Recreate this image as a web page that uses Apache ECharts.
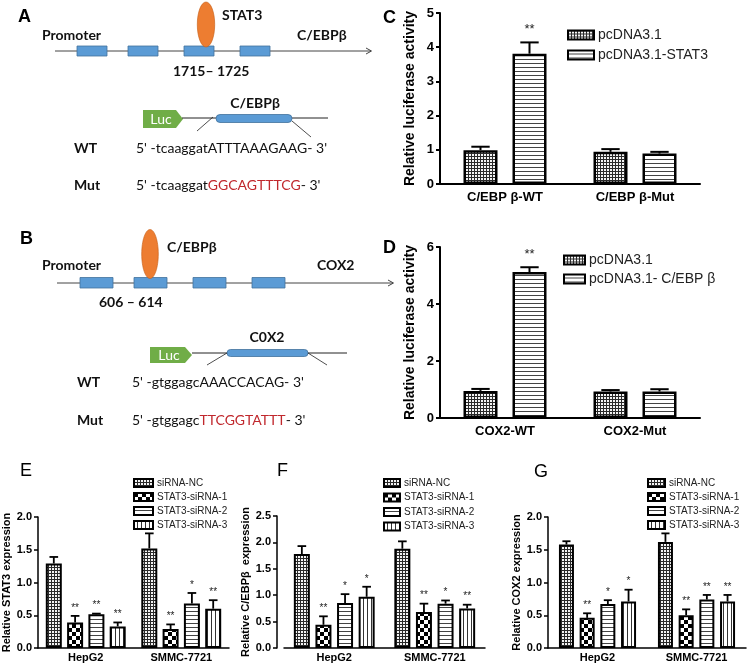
<!DOCTYPE html>
<html><head><meta charset="utf-8">
<script src="https://cdn.jsdelivr.net/npm/echarts@6/dist/echarts.min.js"></script>
<style>html,body{margin:0;padding:0;background:#fff}#c{width:747px;height:667px}</style>
</head><body><div id="c"></div>
<script>
// ---------- DATA ----------
const cCategories = ['C/EBP β-WT', 'C/EBP β-Mut'];
const cNames = ['pcDNA3.1', 'pcDNA3.1-STAT3'];
const cPcDNA = [0.99, 0.94];
const cPcDNAErr = [0.10, 0.08];
const cSTAT3 = [3.81, 0.89];
const cSTAT3Err = [0.33, 0.05];
const cSig = [['', ''], ['**', '']];
const cTicks = [0, 5, 1];

const dCategories = ['COX2-WT', 'COX2-Mut'];
const dNames = ['pcDNA3.1', 'pcDNA3.1- C/EBP β'];
const dPcDNA = [0.95, 0.93];
const dPcDNAErr = [0.07, 0.05];
const dCEBP = [5.12, 0.93];
const dCEBPErr = [0.17, 0.08];
const dSig = [['', ''], ['**', '']];
const dTicks = [0, 6, 2];

const siNames = ['siRNA-NC', 'STAT3-siRNA-1', 'STAT3-siRNA-2', 'STAT3-siRNA-3'];
const cellLines = ['HepG2', 'SMMC-7721'];

const eVals = [[1.29, 1.52], [0.39, 0.29], [0.515, 0.68], [0.33, 0.60]];
const eErrs = [[0.10, 0.23], [0.10, 0.07], [0.01, 0.16], [0.06, 0.13]];
const eSig = [['', ''], ['**', '**'], ['**', '*'], ['**', '**']];
const eTicks = [0, 2, 0.5];

const fVals = [[1.78, 1.88], [0.44, 0.68], [0.85, 0.84], [0.97, 0.75]];
const fErrs = [[0.15, 0.14], [0.16, 0.16], [0.17, 0.06], [0.19, 0.07]];
const fSig = [['', ''], ['**', '**'], ['*', '*'], ['*', '**']];
const fTicks = [0, 2.5, 0.5];

const gVals = [[1.58, 1.62], [0.46, 0.50], [0.67, 0.74], [0.71, 0.71]];
const gErrs = [[0.05, 0.13], [0.07, 0.09], [0.06, 0.07], [0.18, 0.10]];
const gSig = [['', ''], ['**', '**'], ['*', '**'], ['*', '**']];
const gTicks = [0, 2, 0.5];

// ---------- PATTERNS ----------
function mkPattern(kind) {
  const c = document.createElement('canvas');
  let g;
  if (kind === 'dots') {
    c.width = 3; c.height = 3; g = c.getContext('2d');
    g.fillStyle = '#f4f4f4'; g.fillRect(0, 0, 3, 3);
    g.fillStyle = '#2a2a2a'; g.fillRect(0, 0, 3, 1); g.fillRect(0, 0, 1, 3);
  } else if (kind === 'checker') {
    c.width = 8; c.height = 8; g = c.getContext('2d');
    g.fillStyle = '#fff'; g.fillRect(0, 0, 8, 8);
    g.fillStyle = '#000'; g.fillRect(0, 0, 4, 4); g.fillRect(4, 4, 4, 4);
  } else if (kind === 'hstripe') {
    c.width = 4; c.height = 4; g = c.getContext('2d');
    g.fillStyle = '#fff'; g.fillRect(0, 0, 4, 4);
    g.fillStyle = '#444'; g.fillRect(0, 3, 4, 1);
  } else {
    c.width = 4; c.height = 4; g = c.getContext('2d');
    g.fillStyle = '#fff'; g.fillRect(0, 0, 4, 4);
    g.fillStyle = '#333'; g.fillRect(3, 0, 1, 4);
  }
  return { image: c, repeat: 'repeat' };
}
const P = { dots: mkPattern('dots'), checker: mkPattern('checker'), h: mkPattern('hstripe'), v: mkPattern('vstripe') };

const FONT = 'Liberation Sans, Arial, sans-serif';
const DFONT = 'Lato, Open Sans, sans-serif';

// ---------- HELPERS ----------
const grids = [], xAxes = [], yAxes = [], series = [], legends = [];

function addPanel(cfg) {
  const gi = grids.length;
  grids.push({ left: cfg.left, top: cfg.top, width: cfg.width, height: cfg.height, containLabel: false });
  xAxes.push({
    type: 'category', gridIndex: gi, data: cfg.cats,
    axisLine: { lineStyle: { color: '#000', width: cfg.axisW } },
    axisTick: { alignWithLabel: true, length: 4, lineStyle: { color: '#000', width: cfg.axisW } },
    axisLabel: { color: '#000', fontFamily: FONT, fontWeight: 'bold', fontSize: cfg.xFont, margin: cfg.xMargin, interval: 0 }
  });
  yAxes.push({
    type: 'value', gridIndex: gi, min: cfg.ticks[0], max: cfg.ticks[1], interval: cfg.ticks[2],
    offset: cfg.yOffset || 0,
    name: cfg.yName, nameLocation: 'middle', nameGap: cfg.nameGap,
    nameTextStyle: { color: '#000', fontFamily: FONT, fontWeight: 'bold', fontSize: cfg.nameFont },
    splitLine: { show: false },
    axisLine: { show: true, lineStyle: { color: '#000', width: cfg.axisW } },
    axisTick: { show: true, length: 4, lineStyle: { color: '#000', width: cfg.axisW } },
    axisLabel: { color: '#000', fontFamily: FONT, fontWeight: 'bold', fontSize: cfg.yFont, margin: 6, formatter: cfg.yFmt }
  });
  const n = cfg.names.length;
  cfg.names.forEach((nm, s) => {
    series.push({
      type: 'bar', name: nm, xAxisIndex: gi, yAxisIndex: gi, data: cfg.vals[s],
      barWidth: cfg.bw, barGap: (cfg.gap / cfg.bw * 100) + '%',
      itemStyle: { color: cfg.pats[s], borderColor: '#000', borderWidth: cfg.borderW },
      emphasis: { disabled: true }, animation: false
    });
  });
  const errData = [];
  for (let s = 0; s < n; s++) for (let c = 0; c < cfg.cats.length; c++) errData.push([c, cfg.vals[s][c], cfg.errs[s][c], s]);
  series.push({
    type: 'custom', xAxisIndex: gi, yAxisIndex: gi, data: errData, z: 5, clip: false, animation: false,
    renderItem: function (params, api) {
      const ci = api.value(0), v = api.value(1), e = api.value(2), s = api.value(3);
      const base = api.coord([ci, v]), top = api.coord([ci, v + e]);
      const total = n * cfg.bw + (n - 1) * cfg.gap;
      const x = base[0] - total / 2 + s * (cfg.bw + cfg.gap) + cfg.bw / 2;
      const hc = cfg.bw * 0.27;
      const ch = [
        { type: 'line', shape: { x1: x, y1: base[1], x2: x, y2: top[1] }, style: { stroke: '#000', lineWidth: cfg.errW } },
        { type: 'line', shape: { x1: x - hc, y1: top[1], x2: x + hc, y2: top[1] }, style: { stroke: '#000', lineWidth: cfg.errW } }
      ];
      const sig = cfg.sig[s][ci];
      if (sig) ch.push({ type: 'text', x: x, y: top[1] - cfg.sigGap, style: { text: sig, fill: '#222', font: cfg.sigFont + 'px ' + FONT, align: 'center', verticalAlign: 'bottom' } });
      return { type: 'group', children: ch };
    }
  });
  legends.push({
    data: cfg.names, orient: 'vertical', left: cfg.legLeft, top: cfg.legTop,
    itemWidth: cfg.legW, itemHeight: cfg.legH, itemGap: cfg.legGap, icon: 'rect',
    selectedMode: false, padding: 0,
    textStyle: { color: '#222', fontFamily: FONT, fontSize: cfg.legFont, padding: [0, 0, 0, -1] }
  });
}

const oneDec = v => v.toFixed(1);

addPanel({ left: 440, top: 13, width: 260, height: 171, cats: cCategories, names: cNames,
  vals: [cPcDNA, cSTAT3], errs: [cPcDNAErr, cSTAT3Err], sig: cSig, ticks: cTicks,
  pats: [P.dots, P.h], bw: 34, gap: 15, axisW: 2, borderW: 2.5, errW: 2,
  xFont: 13, xMargin: 7, yFont: 13, nameFont: 14, nameGap: 23, yName: 'Relative luciferase activity',
  sigFont: 13, sigGap: 6, legLeft: 567, legTop: 28, legW: 26, legH: 9, legGap: 6, legFont: 14 });

addPanel({ left: 440, top: 247, width: 260, height: 171, cats: dCategories, names: dNames,
  vals: [dPcDNA, dCEBP], errs: [dPcDNAErr, dCEBPErr], sig: dSig, ticks: dTicks,
  pats: [P.dots, P.h], bw: 34, gap: 15, axisW: 2, borderW: 2.5, errW: 2,
  xFont: 13, xMargin: 7, yFont: 13, nameFont: 14, nameGap: 23, yName: 'Relative luciferase activity',
  sigFont: 13, sigGap: 6, legLeft: 563, legTop: 253, legW: 21, legH: 9, legGap: 5, legFont: 14 });

const siPats = [P.dots, P.checker, P.h, P.v];

addPanel({ left: 33, top: 517, width: 196, height: 131, cats: cellLines, names: siNames,
  vals: eVals, errs: eErrs, sig: eSig, ticks: eTicks, pats: siPats, bw: 16, gap: 5.3,
  axisW: 1.5, borderW: 2, errW: 1.8, xFont: 11, xMargin: 4, yFont: 11, yFmt: oneDec,
  nameFont: 11, nameGap: 26, yName: 'Relative STAT3 expression',
  sigFont: 10, sigGap: 3, legLeft: 133, legTop: 478, legW: 19, legH: 8, legGap: 4, legFont: 10 });

addPanel({ left: 284, top: 516, width: 201, height: 132, cats: cellLines, names: siNames, yOffset: 7,
  vals: fVals, errs: fErrs, sig: fSig, ticks: fTicks, pats: siPats, bw: 16, gap: 5.6,
  axisW: 1.5, borderW: 2, errW: 1.8, xFont: 11, xMargin: 4, yFont: 11, yFmt: oneDec,
  nameFont: 11, nameGap: 26, yName: 'Relative C/EBPβ  expression',
  sigFont: 10, sigGap: 3, legLeft: 383, legTop: 478, legW: 16, legH: 8, legGap: 4.5, legFont: 10 });

addPanel({ left: 548, top: 517, width: 198, height: 131, cats: cellLines, names: siNames,
  vals: gVals, errs: gErrs, sig: gSig, ticks: gTicks, pats: siPats, bw: 15, gap: 5.7,
  axisW: 1.5, borderW: 2, errW: 1.8, xFont: 11, xMargin: 4, yFont: 11, yFmt: oneDec,
  nameFont: 11, nameGap: 25, yName: 'Relative COX2 expression',
  sigFont: 10, sigGap: 3, legLeft: 647, legTop: 478, legW: 17, legH: 8, legGap: 4, legFont: 10 });

// ---------- DIAGRAMS (A, B) ----------
function T(text, x, y, size, bold, align, fam, fill, rich) {
  const st = { text: text, x: 0, y: 0, fill: fill || '#111', font: (bold ? 'bold ' : '') + size + 'px ' + (fam || DFONT), align: align || 'left', verticalAlign: 'middle' };
  if (rich) st.rich = rich;
  return { type: 'text', x: x, y: y, style: st, z: 10 };
}
function L(x1, y1, x2, y2, c, w) { return { type: 'line', shape: { x1, y1, x2, y2 }, style: { stroke: c || '#333', lineWidth: w || 1 }, z: 10 }; }
function R(x, y, w, h, r) { return { type: 'rect', shape: { x, y, width: w, height: h, r: r || 0 }, style: { fill: '#5b9bd5', stroke: '#41719c', lineWidth: 0.8 }, z: 10 }; }
function E(cx, cy, rx, ry) { return { type: 'ellipse', shape: { cx, cy, rx, ry }, style: { fill: '#ed7d31', stroke: '#c55a11', lineWidth: 0.6 }, z: 11 }; }
function Luc(x, y, w, h) {
  return [{ type: 'polygon', shape: { points: [[x, y], [x + w - 7, y], [x + w, y + h / 2], [x + w - 7, y + h], [x, y + h]] }, style: { fill: '#70ad47' }, z: 10 },
    T('Luc', x + (w - 4) / 2, y + h / 2 + 0.5, 14, false, 'center', DFONT, '#fff')];
}
const red = { r: { fill: '#c0282d', font: '14px ' + DFONT } };
const g = [];
// panel letters
g.push(T('A', 18, 17, 18, true, 'left', FONT, '#000'));
g.push(T('B', 20, 239, 18, true, 'left', FONT, '#000'));
g.push(T('C', 383, 18, 18, true, 'left', FONT, '#000'));
g.push(T('D', 383, 248, 18, true, 'left', FONT, '#000'));
g.push(T('E', 20, 471, 18, false, 'left', FONT, '#000'));
g.push(T('F', 277, 471, 18, false, 'left', FONT, '#000'));
g.push(T('G', 534, 472, 18, false, 'left', FONT, '#000'));
// A
g.push(L(55, 51, 371, 51, '#444', 1));
g.push({ type: 'polyline', shape: { points: [[366, 48], [371.5, 51], [366, 54]] }, style: { stroke: '#444', lineWidth: 1, fill: null }, z: 10 });
[77, 128, 184, 240].forEach(x => g.push(R(x, 46, 30, 10)));
g.push(E(206, 24.5, 8.7, 22.5));
g.push(T('Promoter', 42, 35, 14, true));
g.push(T('STAT3', 222, 15, 14, true));
g.push(T('C/EBPβ', 297, 35, 14, true));
g.push(T('1715– 1725', 173, 71, 14, true));
g.push(...Luc(143, 110, 40, 18));
g.push(L(182, 118, 328, 118, '#222', 1));
g.push(R(216, 114.5, 76, 8, 4));
g.push(L(213, 117, 197, 131, '#222', 0.8));
g.push(L(292, 121, 311, 137, '#222', 0.8));
g.push(T('C/EBPβ', 255, 103, 14, true, 'center'));
g.push(T('WT', 74, 148, 14, true));
g.push(T("5' -tcaaggatATTTAAAGAAG- 3'", 136, 148, 14, false));
g.push(T('Mut', 74, 185, 14, true));
g.push(T("5' -tcaaggat{r|GGCAGTTTCG}- 3'", 136, 185, 14, false, 'left', DFONT, '#111', red));
// B
g.push(L(57, 283, 393, 283, '#444', 1));
g.push({ type: 'polyline', shape: { points: [[388, 280], [393.5, 283], [388, 286]] }, style: { stroke: '#444', lineWidth: 1, fill: null }, z: 10 });
[80, 134, 193, 252].forEach(x => g.push(R(x, 277.5, 33, 10.5)));
g.push(E(150, 254, 8.3, 24.5));
g.push(T('C/EBPβ', 167, 247, 14, true));
g.push(T('Promoter', 42, 265, 14, true));
g.push(T('COX2', 317, 265, 14, true));
g.push(T('606 – 614', 99, 302, 14, true));
g.push(...Luc(150, 347, 42, 16));
g.push(L(192, 353, 347, 353, '#222', 1));
g.push(R(227, 349.5, 81, 7, 3.5));
g.push(L(227, 353, 207, 365, '#222', 0.8));
g.push(L(308, 353, 327, 365, '#222', 0.8));
g.push(T('C0X2', 267, 337, 14, true, 'center'));
g.push(T('WT', 77, 382, 14, true));
g.push(T("5' -gtggagcAAACCACAG- 3'", 132, 382, 14, false));
g.push(T('Mut', 77, 420, 14, true));
g.push(T("5' -gtggagc{r|TTCGGTATTT}- 3'", 132, 420, 14, false, 'left', DFONT, '#111', red));

const chart = echarts.init(document.getElementById('c'), null, { renderer: 'canvas' });
chart.setOption({
  animation: false,
  backgroundColor: '#fff',
  grid: grids, xAxis: xAxes, yAxis: yAxes, series: series, legend: legends,
  graphic: { elements: g }
});
</script></body></html>
